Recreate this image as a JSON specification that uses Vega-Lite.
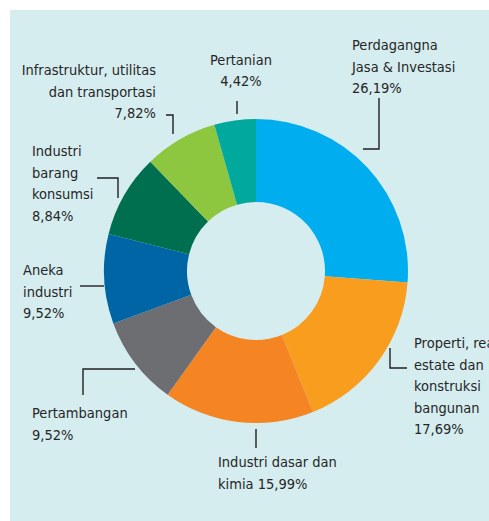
{
  "$schema": "https://vega.github.io/schema/vega-lite/v6.json",
  "width": 479,
  "height": 511,
  "autosize": {"type": "none"},
  "padding": {"left": 10, "top": 10, "right": 0, "bottom": 0},
  "background": "white",
  "config": {"view": {"fill": "#d6edf0", "stroke": null}},
  "datasets": {
    "slices": [
      {"i": 1, "sektor": "Perdagangna Jasa & Investasi", "pct": 26.19},
      {"i": 2, "sektor": "Properti, real estate dan konstruksi bangunan", "pct": 17.69},
      {"i": 3, "sektor": "Industri dasar dan kimia", "pct": 15.99},
      {"i": 4, "sektor": "Pertambangan", "pct": 9.52},
      {"i": 5, "sektor": "Aneka industri", "pct": 9.52},
      {"i": 6, "sektor": "Industri barang konsumsi", "pct": 8.84},
      {"i": 7, "sektor": "Infrastruktur, utilitas dan transportasi", "pct": 7.82},
      {"i": 8, "sektor": "Pertanian", "pct": 4.42}
    ],
    "labels": [
      {"label": "Perdagangna\nJasa & Investasi\n26,19%", "lx": 96, "ly": 221, "side": "left"},
      {"label": "Pertanian\n4,42%", "lx": -15, "ly": 206.5, "side": "center"},
      {"label": "Infrastruktur, utilitas\ndan transportasi\n7,82%", "lx": -100, "ly": 196, "side": "right"},
      {"label": "Industri\nbarang\nkonsumsi\n8,84%", "lx": -224, "ly": 115, "side": "left"},
      {"label": "Aneka\nindustri\n9,52%", "lx": -233, "ly": -4, "side": "left"},
      {"label": "Pertambangan\n9,52%", "lx": -224, "ly": -147, "side": "left"},
      {"label": "Industri dasar dan\nkimia 15,99%", "lx": -38, "ly": -196, "side": "left"},
      {"label": "Properti, real\nestate dan\nkonstruksi\nbangunan\n17,69%", "lx": 158, "ly": -77, "side": "left"}
    ],
    "leaders": [
      {"id": 1, "s": 1, "px": 123, "py": 173},
      {"id": 1, "s": 2, "px": 123, "py": 122},
      {"id": 1, "s": 3, "px": 107, "py": 122},
      {"id": 2, "s": 1, "px": -19, "py": 170},
      {"id": 2, "s": 2, "px": -19, "py": 157},
      {"id": 3, "s": 1, "px": -90, "py": 156},
      {"id": 3, "s": 2, "px": -83, "py": 156},
      {"id": 3, "s": 3, "px": -83, "py": 137},
      {"id": 4, "s": 1, "px": -159, "py": 93},
      {"id": 4, "s": 2, "px": -138, "py": 93},
      {"id": 4, "s": 3, "px": -138, "py": 73},
      {"id": 5, "s": 1, "px": -176, "py": -15},
      {"id": 5, "s": 2, "px": -152, "py": -15},
      {"id": 6, "s": 1, "px": -121, "py": -98},
      {"id": 6, "s": 2, "px": -173, "py": -98},
      {"id": 6, "s": 3, "px": -173, "py": -124},
      {"id": 7, "s": 1, "px": 0, "py": -158},
      {"id": 7, "s": 2, "px": 0, "py": -177},
      {"id": 8, "s": 1, "px": 134, "py": -77},
      {"id": 8, "s": 2, "px": 134, "py": -97},
      {"id": 8, "s": 3, "px": 151, "py": -97}
    ]
  },
  "layer": [
    {
      "data": {"name": "slices"},
      "mark": {"type": "arc", "outerRadius": 152, "innerRadius": 69, "stroke": null},
      "encoding": {
        "x": {"datum": 0, "type": "quantitative", "scale": {"domain": [-246, 233], "nice": false, "zero": false}, "axis": null},
        "y": {"datum": 0, "type": "quantitative", "scale": {"domain": [-250, 261], "nice": false, "zero": false}, "axis": null},
        "theta": {"field": "pct", "type": "quantitative", "stack": true},
        "order": {"field": "i", "type": "quantitative"},
        "color": {
          "field": "sektor", "type": "nominal", "legend": null,
          "scale": {
            "domain": ["Perdagangna Jasa & Investasi", "Properti, real estate dan konstruksi bangunan", "Industri dasar dan kimia", "Pertambangan", "Aneka industri", "Industri barang konsumsi", "Infrastruktur, utilitas dan transportasi", "Pertanian"],
            "range": ["#00aeef", "#f99d1f", "#f58423", "#6d6e71", "#0065a5", "#006f4f", "#8dc63f", "#00a99b"]
          }
        }
      }
    },
    {
      "data": {"name": "leaders"},
      "mark": {"type": "line", "color": "#231f20", "strokeWidth": 1.4, "interpolate": "linear"},
      "encoding": {
        "x": {"field": "px", "type": "quantitative", "axis": null},
        "y": {"field": "py", "type": "quantitative", "axis": null},
        "detail": {"field": "id", "type": "nominal"},
        "order": {"field": "s", "type": "quantitative"}
      }
    },
    {
      "data": {"name": "labels"},
      "transform": [{"filter": "datum.side === 'left'"}],
      "mark": {"type": "text", "align": "left", "baseline": "alphabetic", "lineBreak": "\n", "lineHeight": 21.5, "fontSize": 14.5, "font": "DejaVu Sans Condensed, sans-serif", "color": "#262626"},
      "encoding": {
        "x": {"field": "lx", "type": "quantitative", "axis": null},
        "y": {"field": "ly", "type": "quantitative", "axis": null},
        "text": {"field": "label"}
      }
    },
    {
      "data": {"name": "labels"},
      "transform": [{"filter": "datum.side === 'right'"}],
      "mark": {"type": "text", "align": "right", "baseline": "alphabetic", "lineBreak": "\n", "lineHeight": 21.5, "fontSize": 14.5, "font": "DejaVu Sans Condensed, sans-serif", "color": "#262626"},
      "encoding": {
        "x": {"field": "lx", "type": "quantitative", "axis": null},
        "y": {"field": "ly", "type": "quantitative", "axis": null},
        "text": {"field": "label"}
      }
    },
    {
      "data": {"name": "labels"},
      "transform": [{"filter": "datum.side === 'center'"}],
      "mark": {"type": "text", "align": "center", "baseline": "alphabetic", "lineBreak": "\n", "lineHeight": 21.5, "fontSize": 14.5, "font": "DejaVu Sans Condensed, sans-serif", "color": "#262626"},
      "encoding": {
        "x": {"field": "lx", "type": "quantitative", "axis": null},
        "y": {"field": "ly", "type": "quantitative", "axis": null},
        "text": {"field": "label"}
      }
    }
  ]
}
